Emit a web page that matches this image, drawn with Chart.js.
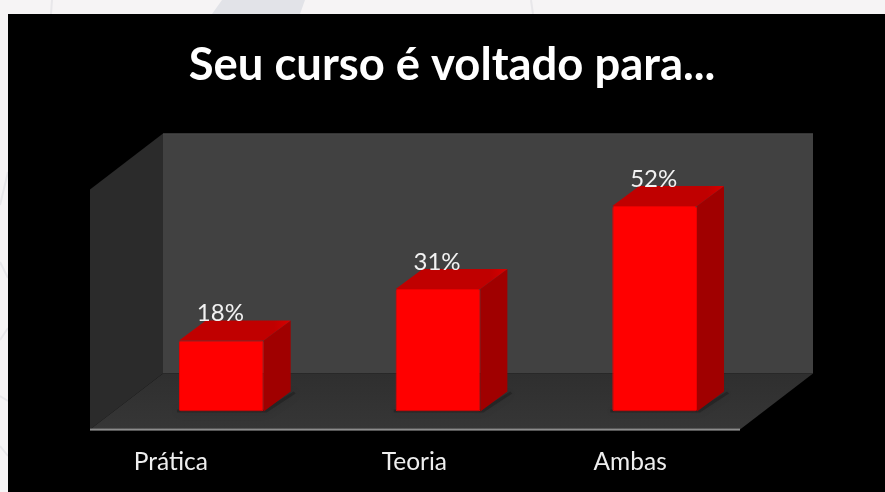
<!DOCTYPE html>
<html>
<head>
<meta charset="utf-8">
<style>
html,body{margin:0;padding:0;background:#f6f4f5;overflow:hidden}
#w{position:absolute;left:0;top:0;width:885px;height:492px}
</style>
<script src="https://cdn.jsdelivr.net/npm/chart.js@4"></script>
</head>
<body>
<div id="w"><canvas id="c" width="885" height="492"></canvas></div>
<script>
const titleText = 'Seu curso é voltado para...';
const categories = ['Prática', 'Teoria', 'Ambas'];
const shares = [18, 31, 52];
const valueLabels = ['18%', '31%', '52%'];
const tickPositions = [-0.233, 0.891, 1.887];

const faceFont = 'Lato, "Open Sans", sans-serif';
const RED = '#ff0000', TOP = '#c00000', SIDE = '#a00000';
const DX = 27, DY = 20;

function poly(ctx, pts, fill) {
  ctx.beginPath();
  pts.forEach((p, i) => i ? ctx.lineTo(p[0], p[1]) : ctx.moveTo(p[0], p[1]));
  ctx.closePath();
  ctx.fillStyle = fill;
  ctx.fill();
}
function stroke(ctx, x1, y1, x2, y2) {
  ctx.beginPath(); ctx.moveTo(x1, y1); ctx.lineTo(x2, y2); ctx.stroke();
}

const scene = {
  id: 'scene',
  afterLayout(chart) {
    // the title sits right of the plot's centre
    chart.titleBlock.left += 28;
  },
  beforeDraw(chart) {
    const ctx = chart.ctx;
    const a = chart.chartArea;
    ctx.save();
    // faint page watermark and panel
    ctx.strokeStyle = '#e8e7ea'; ctx.lineWidth = 2;
    stroke(ctx, 52, 0, 51, 14);
    stroke(ctx, 531, 0, 533, 14);
    stroke(ctx, 0, 205, 8, 172);
    stroke(ctx, 0, 262, 8, 278);
    stroke(ctx, 0, 340, 8, 328);
    stroke(ctx, 0, 396, 8, 401);
    stroke(ctx, 0, 446, 8, 456);
    poly(ctx, [[212, 14], [222, 0], [305, 0], [300, 14]], '#e2e3e8');
    ctx.fillStyle = '#000';
    ctx.fillRect(8, 14, 877, 478);

    // walls are tied to the plot area
    const fl = a.left - 23, fr = a.right - 23, fb = a.bottom + 18, ft = a.top + 15;
    const bl = fl + 73, br = fr + 73, bb = fb - 56, bt = ft - 56;
    poly(ctx, [[bl, bt], [br, bt], [br, bb], [bl, bb]], '#414141');
    ctx.fillStyle = '#4a4a4a'; ctx.fillRect(bl, bt, br - bl, 1);
    poly(ctx, [[fl, ft], [bl, bt], [bl, bb], [fl, fb]], '#2b2b2b');
    const g = ctx.createLinearGradient(0, bb, 0, fb);
    g.addColorStop(0, '#2f2f2f'); g.addColorStop(1, '#363636');
    poly(ctx, [[fl, fb], [bl, bb], [br, bb], [fr, fb]], g);
    ctx.fillStyle = '#8c8c8c';
    ctx.fillRect(fl, fb - 1, fr - fl, 2);
    ctx.restore();
  },
  beforeDatasetsDraw(chart) {
    const ctx = chart.ctx;
    const bars = chart.getDatasetMeta(0).data;
    ctx.save();
    bars.forEach(b => {
      const l = b.x - b.width / 2, r = b.x + b.width / 2, t = b.y, base = b.base;
      ctx.save();
      ctx.shadowColor = 'rgba(0,0,0,0.55)';
      ctx.shadowBlur = 10;
      poly(ctx, [[l - 2, base - 2], [r, base - 2], [r + DX + 3, base - DY], [r + DX + 5, base - DY + 2], [r + 3, base + 1], [l - 2, base + 1]], 'rgba(0,0,0,0.22)');
      ctx.restore();
      poly(ctx, [[r, t], [r + DX, t - DY], [r + DX, base - DY], [r, base]], SIDE);
      const tg = ctx.createLinearGradient(l, 0, r + DX, 0);
      tg.addColorStop(0, TOP); tg.addColorStop(0.85, TOP); tg.addColorStop(1, '#d80000');
      poly(ctx, [[l, t], [l + DX, t - DY], [r + DX, t - DY], [r, t]], tg);
    });
    ctx.restore();
  },
  afterDatasetsDraw(chart) {
    const ctx = chart.ctx;
    const bars = chart.getDatasetMeta(0).data;
    ctx.save();
    ctx.font = '24px ' + faceFont;
    ctx.fillStyle = '#f2f2f2';
    ctx.textAlign = 'center';
    ctx.textBaseline = 'alphabetic';
    bars.forEach((b, i) => ctx.fillText(valueLabels[i], b.x - 1, b.y - 19));
    ctx.restore();
  }
};

new Chart(document.getElementById('c'), {
  type: 'bar',
  data: {
    labels: categories,
    datasets: [{
      data: shares,
      backgroundColor: RED,
      borderColor: '#e80000',
      borderWidth: 1,
      borderSkipped: false,
      borderRadius: 2,
      barPercentage: 85 / 216.5,
      categoryPercentage: 1
    }]
  },
  options: {
    responsive: false,
    animation: false,
    events: [],
    layout: { padding: { left: 113, right: 122, top: 38, bottom: 15 } },
    plugins: {
      legend: { display: false },
      tooltip: { enabled: false },
      title: {
        display: true,
        text: titleText,
        color: '#ffffff',
        font: { family: faceFont, size: 45.4, weight: 'bold' },
        padding: { top: 0, bottom: 82 }
      }
    },
    scales: {
      x: {
        grid: { display: false, tickLength: 36 },
        border: { display: false },
        afterBuildTicks(scale) {
          scale.ticks = tickPositions.map(v => ({ value: v }));
        },
        ticks: {
          autoSkip: false,
          maxRotation: 0,
          color: '#eeeeee',
          padding: 0,
          font: { family: faceFont, size: 24.5 },
          callback: (v, i) => categories[i]
        }
      },
      y: { display: false, min: 0, max: 60 }
    }
  },
  plugins: [scene]
});
</script>
</body>
</html>
